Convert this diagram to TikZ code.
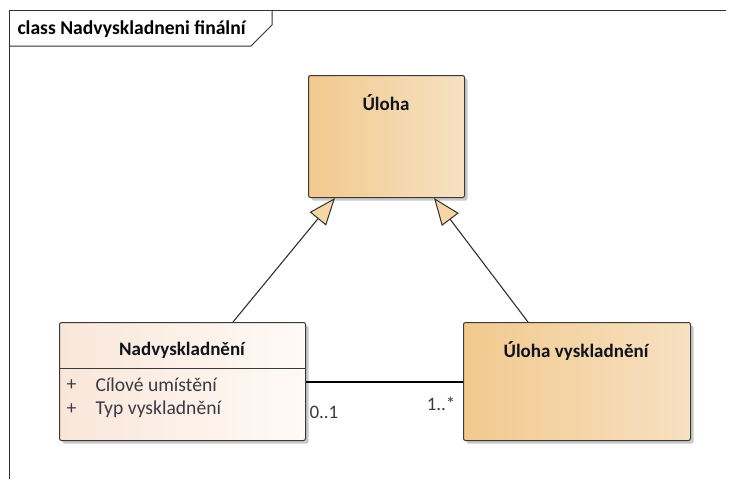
\documentclass[tikz,border=0pt]{standalone}
\usepackage{fontspec}
\setmainfont{Carlito}
\usetikzlibrary{arrows.meta,shadows}
\definecolor{frameline}{HTML}{303030}
\definecolor{boxline}{HTML}{3A3A3A}
\definecolor{orangeL}{HTML}{F2C98E}
\definecolor{orangeR}{HTML}{F6E1C1}
\definecolor{peachL}{HTML}{F9E6D9}
\definecolor{peachR}{HTML}{FFFAF6}
\definecolor{tipfill}{HTML}{F5D6A4}
\definecolor{titletext}{HTML}{10121E}
\definecolor{attrtext}{HTML}{3A3A44}
\tikzset{
  x=1pt, y=-1pt,
  every node/.style={font=\fontsize{19}{23}\selectfont},
  classbox/.style={draw=boxline, line width=1pt, rounded corners=2pt, inner sep=0pt,
    drop shadow={shadow xshift=3pt, shadow yshift=-3pt, opacity=0.35, fill=black!60}},
  orangebox/.style={classbox, shading=axis, left color=orangeL, right color=orangeR, shading angle=90},
  peachbox/.style={classbox, shading=axis, left color=peachL, right color=peachR, shading angle=90},
  classtitle/.style={font=\fontsize{19}{23}\selectfont\bfseries, text=titletext},
  attr/.style={font=\fontsize{19.6}{23}\selectfont, text=attrtext, anchor=west},
  generalization/.style={draw=frameline, line width=1.1pt,
    -{Triangle[length=27pt,width=21pt,fill=tipfill,line width=1pt]}},
  association/.style={draw=black, line width=1.1pt},
  mult/.style={font=\fontsize{19}{22}\selectfont, text=attrtext}
}
\begin{document}
\begin{tikzpicture}
\useasboundingbox (0,0) rectangle (733,479);
\fill[white] (0,0) rectangle (733,479);

% diagram frame with its name tab
\draw[frameline, line width=1pt] (726,10) -- (9,10) -- (9,479);
\draw[frameline, line width=1pt] (272,10) -- (272,25) -- (251,46) -- (9,46);
\node[classtitle, anchor=west, text=black, font=\fontsize{19.6}{23}\selectfont\bfseries] (frametitle) at (14,29) {class Nadvyskladneni finální};

% classes
\node[orangebox, minimum width=156pt, minimum height=122pt, anchor=north west] (uloha) at (308,75) {};
\node[classtitle] (ulohatitle) at (386,103) {Úloha};

\node[peachbox, minimum width=246pt, minimum height=118pt, anchor=north west] (nad) at (59,322) {};
\node[classtitle] (nadtitle) at (182,350) {Nadvyskladnění};
\draw[boxline, line width=1pt] ([yshift=-46pt]nad.north west) coordinate (sepL) -- ([yshift=-46pt]nad.north east) coordinate (sepR);
\node[attr] (plus1) at (63,385) {+};
\node[attr] (attr1) at (92,385) {Cílové umístění};
\node[attr] (plus2) at (63,409) {+};
\node[attr] (attr2) at (92,409) {Typ vyskladnění};

\node[orangebox, minimum width=227pt, minimum height=118pt, anchor=north west] (vys) at (463,322) {};
\node[classtitle] (vystitle) at (576,351) {Úloha vyskladnění};

% generalizations
\draw[generalization] ([xshift=174pt]nad.north west) -- ([xshift=27pt]uloha.south west);
\draw[generalization] ([xshift=65pt]vys.north west) -- ([xshift=126pt]uloha.south west);

% association
\draw[association] (nad.east |- 0,382) coordinate (assocL) -- (vys.west |- 0,382) coordinate (assocR);
\node[mult, anchor=west] (m1) at (306,412) {0..1};
\node[mult, anchor=east] (m2) at (459,404) {1..*};
\end{tikzpicture}
\end{document}
